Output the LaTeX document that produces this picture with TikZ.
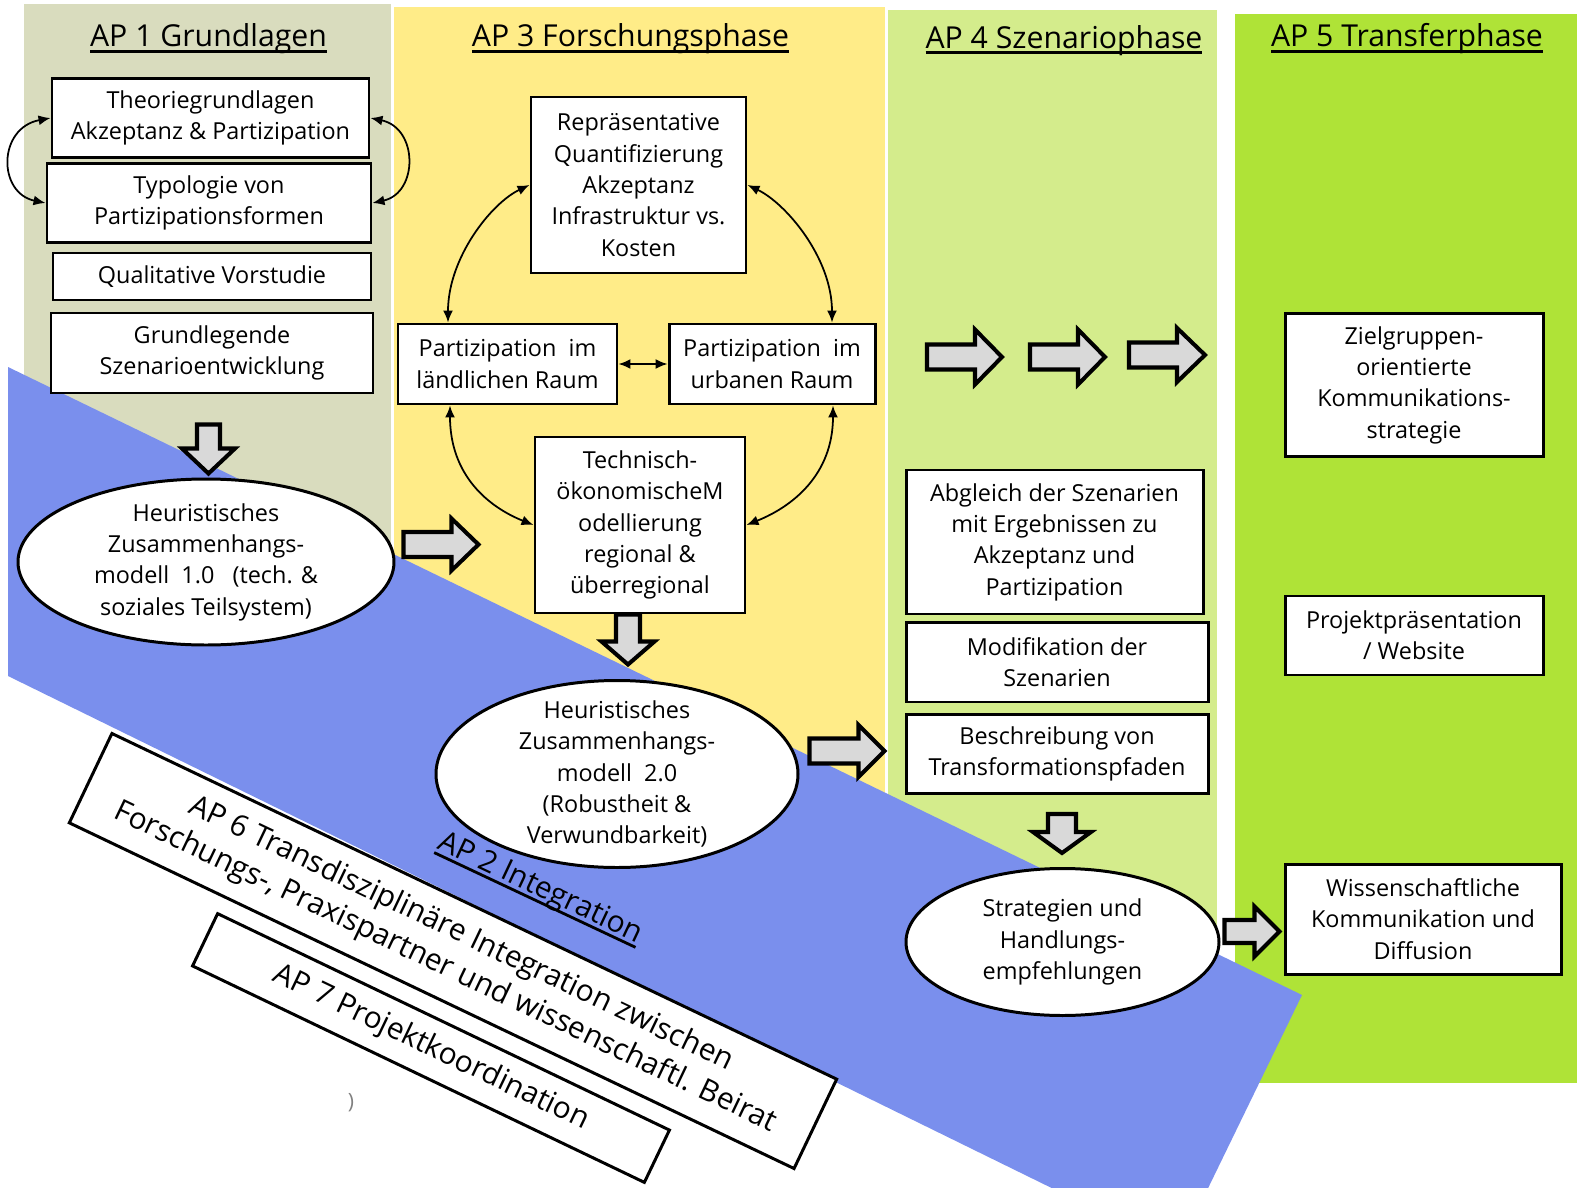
\documentclass[tikz,border=0pt]{standalone}
\usepackage{fontspec}
\setmainfont{Open Sans}
\usetikzlibrary{shapes.geometric,arrows.meta,calc}
\definecolor{apone}{RGB}{217,220,190}
\definecolor{apthree}{RGB}{255,236,136}
\definecolor{apfour}{RGB}{212,236,140}
\definecolor{apfive}{RGB}{175,227,55}
\definecolor{bandblue}{RGB}{122,143,237}
\definecolor{arrowgray}{RGB}{217,217,217}
\newcommand\ulx[1]{\setbox0\hbox{#1}\rlap{\vrule height -0.95pt depth 1.75pt width \wd0}\box0}
\tikzset{
 box/.style={draw, fill=white, line width=0.85pt, inner sep=0pt, align=center, font=\fontsize{6.66}{8.9}\selectfont},
 oval/.style={box, ellipse},
 head/.style={anchor=base, inner sep=0pt, font=\fontsize{8.6}{10}\selectfont},
 blockarrow/.style={draw, fill=arrowgray, line width=1.15pt, line join=miter},
 dbl/.style={{Latex[length=1.2mm,width=1mm]}-{Latex[length=1.2mm,width=1mm]}, line width=0.5pt},
 rotbox/.style={draw, fill=white, line width=0.85pt, inner sep=0pt, align=center, font=\fontsize{8.5}{10.5}\selectfont},
 pics/barrow/.style n args={4}{code={\draw[blockarrow] (0,-#3) -- ({#1-#2},-#3) -- ({#1-#2},-#4) -- (#1,0) -- ({#1-#2},#4) -- ({#1-#2},#3) -- (0,#3) -- cycle;}},
}
\begin{document}
\begin{tikzpicture}[x=0.1mm, y=-0.1mm]
\useasboundingbox (0,0) rectangle (1577,1188);
% panels
\fill[apone] (24,4) rectangle (391,650);
\fill[apthree] (394,7) rectangle (885,850);
\fill[apfour] (888,10) rectangle (1217,1000);
\fill[apfive] (1235,14) rectangle (1577,1083);
\begin{scope}
\clip (0,0) rectangle (1577,1188);
\fill[bandblue] (8,367) -- (1302,995) -- (1178,1250) -- (8,676) -- cycle;
\end{scope}
% headers
\node[head] (h1) at (208.5,47) {\ulx{AP 1 Grundlagen}};
\node[head] (h3) at (630.5,47) {\ulx{AP 3 Forschungsphase}};
\node[head] (h4) at (1064,48) {\ulx{AP 4 Szenariophase}};
\node[head] (h5) at (1407,47) {\ulx{AP 5 Transferphase}};
% AP1
\node[box, minimum width=31.7mm, minimum height=7.9mm] (B1) at (210.5,118) {Theoriegrundlagen\\Akzeptanz \& Partizipation};
\node[box, minimum width=32.4mm, minimum height=7.9mm] (B2) at (209,203) {Typologie von\\Partizipationsformen};
\node[box, minimum width=31.8mm, minimum height=4.7mm] (B3) at (212,276.5) {Qualitative Vorstudie};
\node[box, minimum width=32.2mm, minimum height=8mm] (B4) at (212,353) {Grundlegende\\Szenarioentwicklung};
\node[oval, inner ysep=-0.3mm, minimum width=37.6mm, minimum height=16.6mm] (E1) at (206,562) {Heuristisches\\Zusammenhangs-\\modell\ \ 1.0\ \ \ (tech. \&\\soziales Teilsystem)};
% AP3
\node[box, minimum width=21.5mm, minimum height=17.6mm] (R) at (638.5,185) {Repräsentative\\Quantifizierung\\Akzeptanz\\Infrastruktur vs.\\Kosten};
\node[box, minimum width=21.9mm, minimum height=8mm] (L) at (507.5,364) {Partizipation\ \ im\\ländlichen Raum};
\node[box, minimum width=20.6mm, minimum height=8mm] (U) at (772,364) {Partizipation\ \ im\\urbanen Raum};
\node[box, minimum width=21mm, minimum height=17.6mm] (T) at (640,525) {Technisch-\\ökonomischeM\\odellierung\\regional \&\\überregional};
\node[oval, inner ysep=-1mm, minimum width=36.2mm, minimum height=18.7mm] (E2) at (617,774) {Heuristisches\\Zusammenhangs-\\modell\ \ 2.0\\(Robustheit \&\\Verwundbarkeit)};
% AP4
\node[box, minimum width=29.7mm, minimum height=14.4mm] (A) at (1054.5,542) {Abgleich der Szenarien\\mit Ergebnissen zu\\Akzeptanz und\\Partizipation};
\node[box, minimum width=30.2mm, minimum height=8mm] (M) at (1057,662) {Modifikation der\\Szenarien};
\node[box, minimum width=30.2mm, minimum height=7.9mm] (S) at (1057,754) {Beschreibung von\\Transformationspfaden};
\node[oval, minimum width=31.3mm, minimum height=14.7mm] (E3) at (1062.5,942) {Strategien und\\Handlungs-\\empfehlungen};
% AP5
\node[box, minimum width=25.8mm, minimum height=14.3mm] (Z) at (1414,385) {Zielgruppen-\\orientierte\\Kommunikations-\\strategie};
\node[box, minimum width=25.8mm, minimum height=7.9mm] (P) at (1414,635.5) {Projektpräsentation\\/ Website};
\node[box, minimum width=27.6mm, minimum height=11mm] (W) at (1423,919) {Wissenschaftliche\\Kommunikation und\\Diffusion};
% AP6, AP7, AP2
\node[rotbox, rotate=-25.5, minimum width=80.3mm, minimum height=9.9mm] (AP6) at (453,951) {AP 6 Transdisziplinäre Integration zwischen\\Forschungs-, Praxispartner und wissenschaftl. Beirat};
\node[rotbox, rotate=-25.6, minimum width=50.1mm, minimum height=5.8mm] (AP7) at (431,1048) {AP 7 Projektkoordination};
\node[rotate=-25.2, inner sep=0pt, font=\fontsize{8.5}{10}\selectfont] (AP2) at (540,889) {\ulx{AP 2 Integration}};
\node[text=black!50, inner sep=0pt, font=\fontsize{6}{6}\selectfont] (mark) at (351,1103) {)};
% thin connectors
\draw[dbl] (B1.west) .. controls +(-53,10) and +(-48,-10) .. (B2.west);
\draw[dbl] (B1.east) .. controls +(48,10) and +(46,-10) .. (B2.east);
\draw[dbl] (R.west) .. controls +(-38,18) and +(0,-65) .. ([xshift=-5.95mm]L.north);
\draw[dbl] (R.east) .. controls +(38,18) and +(0,-65) .. ([xshift=6mm]U.north);
\draw[dbl] ([xshift=-5.75mm]L.south) .. controls +(0,70) and +(-45,-18) .. (T.west);
\draw[dbl] ([xshift=6.1mm]U.south) .. controls +(0,70) and +(45,-18) .. (T.east);
\draw[dbl] (L.east) -- (U.west);
% block arrows
\pic[rotate=-90] at ($(B4.south)+(-3.5,30)$) {barrow={49}{25}{11.5}{26.5}};
\pic at ($(E1.east)+(8,-17.5)$) {barrow={75}{27}{12.5}{26}};
\pic[rotate=-90] at ($(T.south)+(-12,0)$) {barrow={50}{23}{12}{26.5}};
\pic at ($(E2.east)+(10,-23)$) {barrow={75}{26}{12.5}{26}};
\pic at (927,357) {barrow={75}{27}{12.5}{27.5}};
\pic at (1030,357) {barrow={75}{27}{12.5}{27.5}};
\pic at (1129,355) {barrow={76}{28}{12.5}{27}};
\pic[rotate=-90] at ($(S.south)+(5,19)$) {barrow={39}{21}{14}{29}};
\pic at ($(E3.east)+(4,-10.5)$) {barrow={55}{25}{11.5}{25}};
\end{tikzpicture}
\end{document}
